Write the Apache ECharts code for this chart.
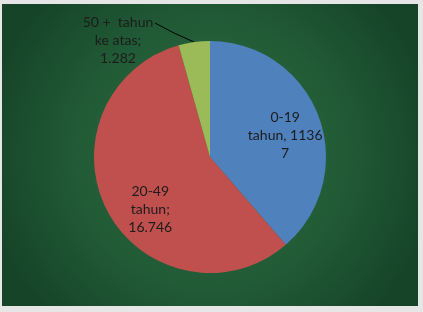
<!DOCTYPE html>
<html>
<head>
<meta charset="utf-8">
<script src="https://cdn.jsdelivr.net/npm/echarts@6/dist/echarts.min.js"></script>
<style>
  html, body { margin: 0; padding: 0; background: #ffffff; }
  #wrap { position: relative; width: 423px; height: 312px; background: #e6e6e6; }
  #chart { position: absolute; left: 2px; top: 4px; width: 416px; height: 302px; }
</style>
</head>
<body>
<div id="wrap"><div id="chart"></div></div>
<script>
// data kelompok umur
const categories = ['0-19 tahun', '20-49 tahun', '50 + tahun ke atas'];
const values = [11367, 16746, 1282];
const labelTexts = ['0-19\ntahun, 1136\n7', '20-49\ntahun;\n16.746', '50 +  tahun\nke atas;\n1.282'];
const colors = ['#4F81BD', '#C0504D', '#9BBB59'];

const chart = echarts.init(document.getElementById('chart'));

const seriesData = categories.map((name, i) => {
  const item = {
    name: name,
    value: values[i],
    itemStyle: { color: colors[i] },
    label: { formatter: labelTexts[i] }
  };
  if (i === 2) {
    // label luar dengan garis
    item.label.position = 'outside';
    item.labelLine = { show: true, length: 2, length2: 0, smooth: false, lineStyle: { color: '#000', width: 1 } };
  }
  return item;
});

const option = {
  backgroundColor: {
    type: 'radial', x: 0.5, y: 0.5, r: 0.75,
    colorStops: [
      { offset: 0, color: '#2c7245' },
      { offset: 0.6, color: '#215a36' },
      { offset: 1, color: '#164428' }
    ]
  },
  series: [{
    type: 'pie',
    center: [208, 153],
    radius: 116,
    startAngle: 90,
    clockwise: true,
    animation: false,
    label: {
      show: true,
      position: 'inside',
      color: '#1c1c1c',
      fontFamily: 'Lato',
      fontSize: 14,
      lineHeight: 18,
      align: 'center'
    },
    labelLine: { show: false },
    labelLayout: function (params) {
      if (params.dataIndex === 0) return { dx: 18, dy: 0 };
      if (params.dataIndex === 1) return { dx: -6, dy: 24 };
      const p = params.labelLinePoints ? params.labelLinePoints[0] : [193, 38];
      return {
        x: 116, y: 36, align: 'center', verticalAlign: 'middle',
        labelLinePoints: [p, [p[0] - 20, p[1] - 9], [153, 19]]
      };
    },
    data: seriesData
  }]
};

chart.setOption(option);
</script>
</body>
</html>
